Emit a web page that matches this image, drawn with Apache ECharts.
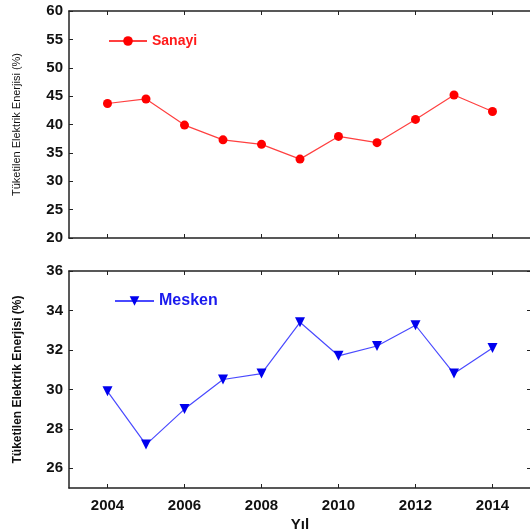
<!DOCTYPE html>
<html>
<head>
<meta charset="utf-8">
<script src="https://cdn.jsdelivr.net/npm/echarts@6/dist/echarts.min.js"></script>
<style>
  html, body { margin: 0; padding: 0; background: #fff; }
  #chart { width: 530px; height: 531px; }
</style>
</head>
<body>
<div id="chart"></div>
<script>
// Years on the horizontal axis
var years = [2004, 2005, 2006, 2007, 2008, 2009, 2010, 2011, 2012, 2013, 2014];
// Share of consumed electricity (%)
var sanayi = [43.7, 44.5, 39.9, 37.3, 36.5, 33.9, 37.9, 36.8, 40.9, 45.2, 42.3];
var mesken = [29.9, 27.2, 29.0, 30.5, 30.8, 33.4, 31.7, 32.2, 33.25, 30.8, 32.1];
// Tick positions
var yearTicks = [2004, 2006, 2008, 2010, 2012, 2014];
var sanayiTicks = [20, 25, 30, 35, 40, 45, 50, 55, 60];
var meskenTicks = [26, 28, 30, 32, 34, 36];

var FONT = 'Liberation Sans, Arial, sans-serif';
var axisLineStyle = { color: '#222', width: 1.5 };

function pairs(xs, ys) {
  return xs.map(function (x, i) { return [x, ys[i]]; });
}

function xAxisDef(grid, pos, labels) {
  return {
    type: 'value', gridIndex: grid, position: pos,
    min: 2003, max: 2015,
    splitLine: { show: false },
    axisLine: { show: true, onZero: false, lineStyle: axisLineStyle },
    axisTick: { show: true, inside: true, length: 4, customValues: yearTicks, lineStyle: { color: '#222' } },
    axisLabel: labels ? {
      show: true, customValues: yearTicks, margin: 10,
      formatter: function (v) { return String(v); },
      fontFamily: FONT, fontWeight: 'bold', fontSize: 15, color: '#111'
    } : { show: false }
  };
}

function yAxisDef(grid, pos, min, max, ticks, labels, name, nameStyle) {
  var ax = {
    type: 'value', gridIndex: grid, position: pos,
    min: min, max: max,
    splitLine: { show: false },
    axisLine: { show: true, onZero: false, lineStyle: axisLineStyle },
    axisTick: { show: !!ticks, inside: true, length: 4, customValues: ticks || [], lineStyle: { color: '#222' } },
    axisLabel: labels ? {
      show: true, customValues: ticks, margin: 6,
      fontFamily: FONT, fontWeight: 'bold', fontSize: 15, color: '#111'
    } : { show: false }
  };
  if (name) {
    ax.name = name;
    ax.nameLocation = 'middle';
    ax.nameGap = nameStyle.gap;
    ax.nameTextStyle = {
      fontFamily: FONT, fontSize: nameStyle.size, fontWeight: nameStyle.weight, color: '#111'
    };
  }
  return ax;
}

var chart = echarts.init(document.getElementById('chart'), null, { renderer: 'canvas' });

chart.setOption({
  animation: false,
  backgroundColor: '#fff',
  grid: [
    { left: 69, right: -1, top: 11, height: 227, outerBoundsMode: 'none', containLabel: false },
    { left: 69, right: -1, top: 271, height: 217, outerBoundsMode: 'none', containLabel: false }
  ],
  xAxis: [
    xAxisDef(0, 'bottom', false),
    xAxisDef(0, 'top', false),
    Object.assign(xAxisDef(1, 'bottom', true), {
      name: 'Yıl', nameLocation: 'middle', nameGap: 29,
      nameTextStyle: { fontFamily: FONT, fontSize: 15, fontWeight: 'bold', color: '#111' }
    }),
    xAxisDef(1, 'top', false)
  ],
  yAxis: [
    yAxisDef(0, 'left', 20, 60, sanayiTicks, true, 'Tüketilen Elektrik Enerjisi (%)', { gap: 47, size: 11, weight: 'normal' }),
    yAxisDef(0, 'right', 20, 60, null, false),
    yAxisDef(1, 'left', 25, 36, meskenTicks, true, 'Tüketilen Elektrik Enerjisi (%)', { gap: 45, size: 12, weight: 'bold' }),
    yAxisDef(1, 'right', 25, 36, meskenTicks, false)
  ],
  legend: [
    {
      data: ['Sanayi'], left: 108, top: 34, padding: 0, itemWidth: 38, itemHeight: 12, itemGap: 6,
      textStyle: { fontFamily: FONT, fontWeight: 'bold', fontSize: 14, color: '#ff1a1a' }
    },
    {
      data: ['Mesken'], left: 114, top: 293, padding: 0, itemWidth: 39, itemHeight: 12, itemGap: 6,
      textStyle: { fontFamily: FONT, fontWeight: 'bold', fontSize: 16, color: '#1a1aee' }
    }
  ],
  series: [
    {
      name: 'Sanayi', type: 'line', xAxisIndex: 0, yAxisIndex: 0,
      data: pairs(years, sanayi),
      symbol: 'circle', symbolSize: 9,
      itemStyle: { color: '#ff0000' },
      lineStyle: { color: '#ff4040', width: 1.2 }
    },
    {
      name: 'Mesken', type: 'line', xAxisIndex: 2, yAxisIndex: 2,
      data: pairs(years, mesken),
      symbol: 'triangle', symbolRotate: 180, symbolSize: 10,
      itemStyle: { color: '#0000ee' },
      lineStyle: { color: '#4a4aff', width: 1.2 }
    }
  ]
});
</script>
</body>
</html>
